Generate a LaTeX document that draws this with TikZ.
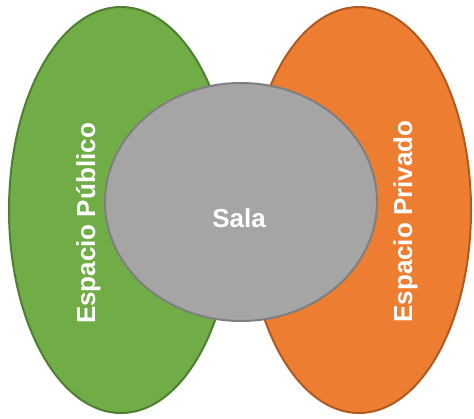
\documentclass[tikz,border=0pt]{standalone}
\usepackage{fontspec}
\setmainfont{Liberation Sans}
\usetikzlibrary{shapes.geometric}
\definecolor{pubgreen}{HTML}{70AD47}
\definecolor{pubgreenline}{HTML}{507E32}
\definecolor{privorange}{HTML}{ED7D31}
\definecolor{privorangeline}{HTML}{AE5A21}
\definecolor{salagray}{HTML}{A5A5A5}
\definecolor{salagrayline}{HTML}{7F7F7F}
\begin{document}
\begin{tikzpicture}[x=1pt, y=-1pt,
  blob/.style={ellipse, line width=2pt, inner sep=0pt},
  lbl/.style={text=white, font=\fontsize{26}{30}\selectfont\bfseries, inner sep=0pt}]
\useasboundingbox (0,0) rectangle (474,418);
% the two spaces
\node[blob, draw=pubgreenline, fill=pubgreen, minimum width=224pt, minimum height=406pt] (pub) at (121,210){};
\node[blob, draw=privorangeline, fill=privorange, minimum width=224pt, minimum height=406pt] (priv) at (359,210){};
% the room in the middle
\node[blob, draw=salagrayline, fill=salagray, minimum width=272pt, minimum height=238pt] (sala) at (241,202){};
\node[lbl, rotate=90, anchor=base] (publbl) at (95,223.5){Espacio Público};
\node[lbl, rotate=90, anchor=base] (privlbl) at (412,221.5){Espacio Privado};
\node[lbl, anchor=base] (salalbl) at (239,227){Sala};
\end{tikzpicture}
\end{document}
